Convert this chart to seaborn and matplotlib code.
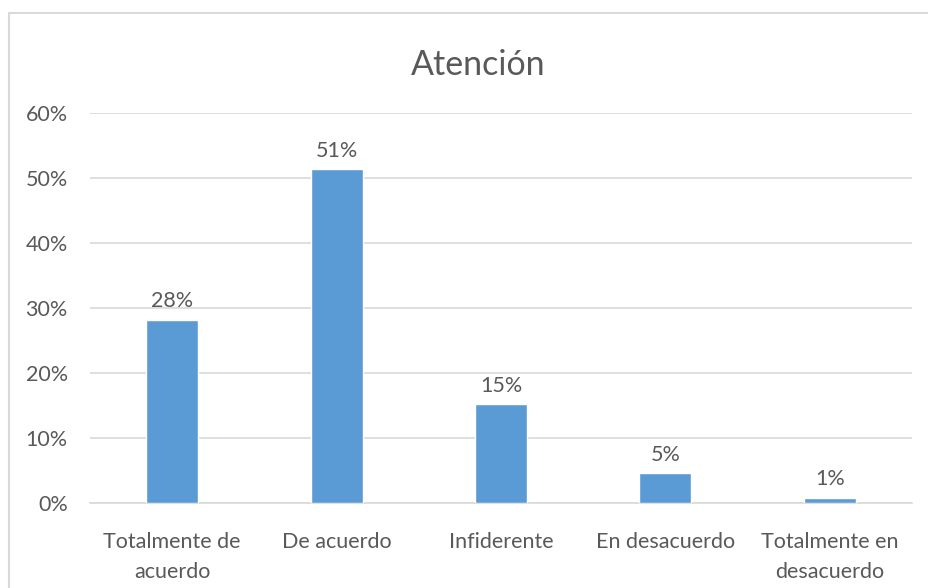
import matplotlib
matplotlib.use("Agg")
import matplotlib.pyplot as plt
import seaborn as sns
import pandas as pd
from matplotlib.patches import Rectangle
from matplotlib.ticker import PercentFormatter

categories = ["Totalmente de\nacuerdo", "De acuerdo", "Infiderente", "En desacuerdo", "Totalmente en\ndesacuerdo"]
values = [0.282, 0.514, 0.152, 0.046, 0.008]
yticks = [0.0, 0.1, 0.2, 0.3, 0.4, 0.5, 0.6]

sns.set_theme(style="white")
plt.rcParams["font.family"] = ["Lato", "DejaVu Sans"]

text_color = "#595959"
grid_color = "#D9D9D9"
bar_color = "#5B9BD5"

df = pd.DataFrame({"categoria": categories, "valor": values})

fig = plt.figure(figsize=(9.29, 5.88), dpi=100)
ax = fig.add_axes([90 / 929, 1 - 503 / 588, (912 - 90) / 929, (503 - 113) / 588])

sns.barplot(data=df, x="categoria", y="valor", color=bar_color, width=0.316,
            saturation=1, ax=ax, zorder=3)

ax.set_ylim(0, 0.6)
ax.set_yticks(yticks)
ax.yaxis.set_major_formatter(PercentFormatter(1.0, decimals=0))
ax.grid(axis="y", color=grid_color, linewidth=1.2, zorder=0)
ax.grid(axis="x", visible=False)
for side in ["left", "right", "top"]:
    ax.spines[side].set_visible(False)
ax.spines["bottom"].set_color(grid_color)
ax.spines["bottom"].set_linewidth(1.2)
ax.set_xlabel("")
ax.set_ylabel("")
ax.tick_params(axis="y", length=0, pad=16, labelsize=15.5, labelcolor=text_color)
ax.tick_params(axis="x", length=0, pad=21, labelsize=15.5, labelcolor=text_color)
for lbl in ax.get_xticklabels():
    lbl.set_horizontalalignment("center")
    lbl.set_linespacing(1.6)

for container in ax.containers:
    ax.bar_label(container, labels=[f"{v:.0%}" for v in values], padding=6,
                 fontsize=15.5, color=text_color)

fig.text(478 / 929, 1 - 65 / 588, "Atención", ha="center", va="center",
         fontsize=24.5, color=text_color)

fig.patches.append(Rectangle((9 / 929, -0.05), 1.2, 1 - 13 / 588 + 0.05,
                             transform=fig.transFigure, fill=False,
                             edgecolor=grid_color, linewidth=1.5))

fig.savefig("out.png", dpi=100)
